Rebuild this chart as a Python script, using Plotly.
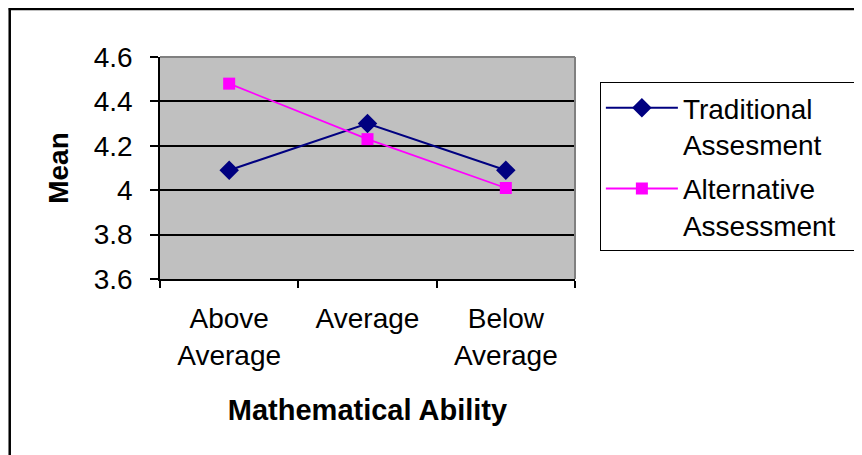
import plotly.graph_objects as go

categories = ["Above<br>Average", "Average", "Below<br>Average"]
traditional = [4.09, 4.30, 4.09]
alternative = [4.48, 4.23, 4.01]
series_names = ["Traditional<br>Assesment", "Alternative<br>Assessment"]
y_ticks = [3.6, 3.8, 4.0, 4.2, 4.4, 4.6]
y_ticklabels = ["3.6", "3.8", "4", "4.2", "4.4", "4.6"]

FONT = "Liberation Sans, Arial, sans-serif"
PAD = "\u00a0\u00a0"  # widens the legend box a little

# figure geometry (page is offset 8px by the browser body margin)
W, H = 862, 455
L, T, R, B = 152, 49, 293, 184
PW, PH = W - L - R, H - T - B

fig = go.Figure()
fig.add_trace(go.Scatter(
    x=categories, y=traditional, name=series_names[0], mode="lines+markers",
    legendgroup="a",
    line=dict(color="#000080", width=2),
    marker=dict(symbol="diamond", size=15, color="#000080"),
))
fig.add_trace(go.Scatter(
    x=categories, y=alternative, name=series_names[1] + PAD, mode="lines+markers",
    legendgroup="b",
    line=dict(color="#FF00FF", width=1.8),
    marker=dict(symbol="square", size=12, color="#FF00FF"),
))

fig.update_layout(
    width=W, height=H,
    margin=dict(l=L, r=R, t=T, b=B),
    paper_bgcolor="white", plot_bgcolor="#C0C0C0",
    font=dict(family=FONT, size=28, color="black"),
    showlegend=True,
    legend=dict(
        x=(594 - L) / PW, y=(PH + T - 74) / PH, xanchor="left", yanchor="top",
        bordercolor="black", borderwidth=1, bgcolor="white",
        font=dict(family=FONT, size=28, color="black"),
        valign="top", tracegroupgap=5, itemwidth=72,
    ),
    xaxis=dict(
        type="category", range=[-0.5, len(categories) - 0.5],
        tickson="boundaries", ticks="outside", ticklen=7,
        tickcolor="black", tickwidth=1.5, showline=True, linecolor="black", linewidth=1.5,
        showgrid=False, mirror=False, ticklabelstandoff=14,
        tickfont=dict(family=FONT, size=28),
        title=dict(text="<b>Mathematical Ability</b>", font=dict(family=FONT, size=29), standoff=30),
    ),
    yaxis=dict(
        range=[3.6, 4.6], tickvals=y_ticks, ticktext=y_ticklabels,
        ticks="outside", ticklen=8, tickcolor="black", tickwidth=1.5,
        showline=True, linecolor="black", linewidth=1.5,
        showgrid=True, gridcolor="black", gridwidth=1.5, zeroline=False,
        ticklabelstandoff=12,
        tickfont=dict(family=FONT, size=28),
        title=dict(text="<b>Mean</b>", font=dict(family=FONT, size=28), standoff=17),
    ),
    shapes=[
        dict(type="line", xref="paper", yref="paper", x0=0, x1=1, y0=1, y1=1,
             line=dict(color="#808080", width=2)),
        dict(type="line", xref="paper", yref="paper", x0=1, x1=1, y0=0, y1=1,
             line=dict(color="#808080", width=2)),
        dict(type="line", xref="paper", yref="paper", x0=-L / PW, x1=(W - L) / PW,
             y0=(PH + T - 1) / PH, y1=(PH + T - 1) / PH, line=dict(color="black", width=2.5)),
        dict(type="line", xref="paper", yref="paper", x0=(1 - L) / PW, x1=(1 - L) / PW,
             y0=(PH + T) / PH, y1=-B / PH, line=dict(color="black", width=2.5)),
    ],
)

fig.write_html("out.html")
